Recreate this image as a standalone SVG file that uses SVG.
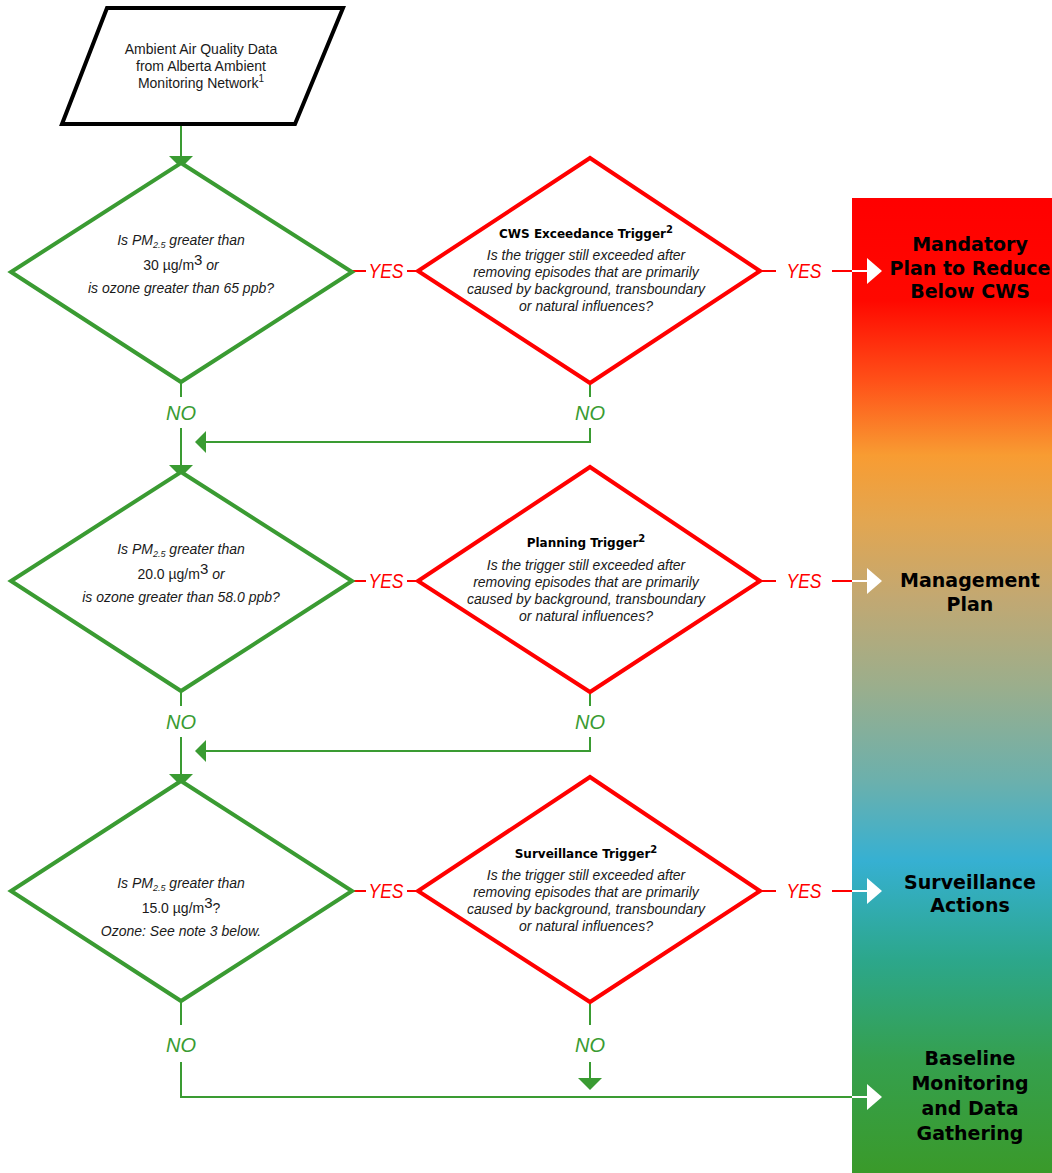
<svg xmlns="http://www.w3.org/2000/svg" width="1052" height="1173" viewBox="0 0 1052 1173">
<style>
.gd{fill:#fff;stroke:#3A9B32;stroke-width:4;stroke-linejoin:miter}
.rd{fill:#fff;stroke:#FF0000;stroke-width:4;stroke-linejoin:miter}
.gl{fill:none;stroke:#3A9B32;stroke-width:2}
.rl{fill:none;stroke:#FF0000;stroke-width:2}
.wl{fill:none;stroke:#fff;stroke-width:2}
.ga{fill:#3A9B32}
.ra{fill:#FF0000}
.wa{fill:#fff}
.t{font-family:"Liberation Sans",Arial,sans-serif;font-size:14px;fill:#1a1a1a;text-anchor:middle}
.i{font-style:italic}
.b{font-family:"DejaVu Sans",sans-serif;font-weight:bold;font-size:12px;fill:#000;text-anchor:middle}
.bar{font-family:"DejaVu Sans",sans-serif;font-weight:bold;font-size:19px;fill:#000;text-anchor:middle}
.yes{font-family:"Liberation Sans",Arial,sans-serif;font-style:italic;font-size:20px;fill:#FF0000;text-anchor:middle}
.no{font-family:"Liberation Sans",Arial,sans-serif;font-style:italic;font-size:20px;fill:#3A9B32;text-anchor:middle}
</style>
<defs>
<linearGradient id="grad" x1="0" y1="0" x2="0" y2="1">
<stop offset="0" stop-color="#FF0000"/>
<stop offset="0.105" stop-color="#FF0800"/>
<stop offset="0.187" stop-color="#FF5018"/>
<stop offset="0.264" stop-color="#F89C32"/>
<stop offset="0.33" stop-color="#E3A650"/>
<stop offset="0.41" stop-color="#C2A872"/>
<stop offset="0.50" stop-color="#9BAE8C"/>
<stop offset="0.597" stop-color="#6CB0AC"/>
<stop offset="0.68" stop-color="#36B0D2"/>
<stop offset="0.78" stop-color="#2CA78C"/>
<stop offset="0.885" stop-color="#35A04E"/>
<stop offset="1" stop-color="#3A9A2A"/>
</linearGradient>
</defs>

<g id="bar">
<rect x="852" y="198" width="200" height="975" fill="url(#grad)"/>
</g>

<g id="connectors">
<!-- input to diamond 1 -->
<line class="gl" x1="181" y1="124" x2="181" y2="158"/>
<polygon class="ga" points="169,156 193,156 181,168"/>
<!-- row 1 YES -->
<line class="rl" x1="352" y1="271" x2="366" y2="271"/>
<line class="rl" x1="407" y1="271" x2="418" y2="271"/>
<line class="rl" x1="418" y1="271" x2="451" y2="271"/>
<polygon class="ra" points="450,259 463,271 450,283"/>
<line class="rl" x1="760" y1="271" x2="776" y2="271"/>
<line class="rl" x1="832" y1="271" x2="852" y2="271"/>
<line class="wl" x1="852" y1="271" x2="868" y2="271"/>
<polygon class="wa" points="867,258 882,271 867,284"/>
<!-- row 1 NO -->
<line class="gl" x1="181" y1="382" x2="181" y2="397"/>
<line class="gl" x1="181" y1="428" x2="181" y2="467"/>
<polygon class="ga" points="169,465 193,465 181,477"/>
<line class="gl" x1="590" y1="383" x2="590" y2="397"/>
<polyline class="gl" points="590,428 590,442 204,442"/>
<polygon class="ga" points="206,431 206,453 195,442"/>
<!-- row 2 YES -->
<line class="rl" x1="352" y1="581" x2="366" y2="581"/>
<line class="rl" x1="407" y1="581" x2="418" y2="581"/>
<line class="rl" x1="418" y1="581" x2="451" y2="581"/>
<polygon class="ra" points="450,569 463,581 450,593"/>
<line class="rl" x1="760" y1="581" x2="776" y2="581"/>
<line class="rl" x1="832" y1="581" x2="852" y2="581"/>
<line class="wl" x1="852" y1="581" x2="868" y2="581"/>
<polygon class="wa" points="867,568 882,581 867,594"/>
<!-- row 2 NO -->
<line class="gl" x1="181" y1="691" x2="181" y2="706"/>
<line class="gl" x1="181" y1="737" x2="181" y2="776"/>
<polygon class="ga" points="169,774 193,774 181,786"/>
<line class="gl" x1="590" y1="692" x2="590" y2="706"/>
<polyline class="gl" points="590,737 590,751 204,751"/>
<polygon class="ga" points="206,740 206,762 195,751"/>
<!-- row 3 YES -->
<line class="rl" x1="352" y1="891" x2="366" y2="891"/>
<line class="rl" x1="407" y1="891" x2="418" y2="891"/>
<line class="rl" x1="418" y1="891" x2="451" y2="891"/>
<polygon class="ra" points="450,879 463,891 450,903"/>
<line class="rl" x1="760" y1="891" x2="776" y2="891"/>
<line class="rl" x1="832" y1="891" x2="852" y2="891"/>
<line class="wl" x1="852" y1="891" x2="868" y2="891"/>
<polygon class="wa" points="867,878 882,891 867,904"/>
<!-- row 3 NO -->
<line class="gl" x1="181" y1="1001" x2="181" y2="1025"/>
<polyline class="gl" points="181,1062 181,1097 852,1097"/>
<line class="wl" x1="852" y1="1097" x2="868" y2="1097"/>
<polygon class="wa" points="867,1084 882,1097 867,1110"/>
<line class="gl" x1="590" y1="1002" x2="590" y2="1025"/>
<line class="gl" x1="590" y1="1062" x2="590" y2="1080"/>
<polygon class="ga" points="578,1078 602,1078 590,1090"/>
<!-- labels -->
<text class="yes" x="386" y="278" textLength="35" lengthAdjust="spacingAndGlyphs">YES</text>
<text class="yes" x="804" y="278" textLength="35" lengthAdjust="spacingAndGlyphs">YES</text>
<text class="yes" x="386" y="588" textLength="35" lengthAdjust="spacingAndGlyphs">YES</text>
<text class="yes" x="804" y="588" textLength="35" lengthAdjust="spacingAndGlyphs">YES</text>
<text class="yes" x="386" y="898" textLength="35" lengthAdjust="spacingAndGlyphs">YES</text>
<text class="yes" x="804" y="898" textLength="35" lengthAdjust="spacingAndGlyphs">YES</text>
<text class="no" x="181" y="420">NO</text>
<text class="no" x="590" y="420">NO</text>
<text class="no" x="181" y="729">NO</text>
<text class="no" x="590" y="729">NO</text>
<text class="no" x="181" y="1052">NO</text>
<text class="no" x="590" y="1052">NO</text>
</g>

<g id="input">
<polygon points="107,8 343,8 295,124 62,124" fill="#fff" stroke="#000" stroke-width="4"/>
<text class="t" x="201" y="54">Ambient Air Quality Data</text>
<text class="t" x="201" y="71">from Alberta Ambient</text>
<text class="t" x="201" y="88">Monitoring Network<tspan font-size="10" dy="-6">1</tspan></text>
</g>

<g id="decision1">
<polygon class="gd" points="181,163 352,272 181,382 11,272"/>
<text class="t i" x="181" y="245">Is PM<tspan font-size="9" dy="3">2.5</tspan><tspan dy="-3"> greater than</tspan></text>
<text class="t" x="181" y="270">30 µg/m<tspan font-size="15" dy="-5">3</tspan><tspan dy="5" font-style="italic"> or</tspan></text>
<text class="t i" x="181" y="293">is ozone greater than 65 ppb?</text>
</g>

<g id="cws-trigger">
<polygon class="rd" points="590,158 760,271 590,383 418,271"/>
<text class="b" x="586" y="238">CWS Exceedance Trigger<tspan font-size="10" dy="-5">2</tspan></text>
<text class="t i" x="586" y="260">Is the trigger still exceeded after</text>
<text class="t i" x="586" y="277">removing episodes that are primarily</text>
<text class="t i" x="586" y="294">caused by background, transboundary</text>
<text class="t i" x="586" y="311">or natural influences?</text>
</g>

<g id="mandatory">
<text class="bar" x="970" y="251">Mandatory</text>
<text class="bar" x="970" y="275">Plan to Reduce</text>
<text class="bar" x="970" y="298">Below CWS</text>
</g>

<g id="decision2">
<polygon class="gd" points="181,472 352,581 181,691 11,581"/>
<text class="t i" x="181" y="554">Is PM<tspan font-size="9" dy="3">2.5</tspan><tspan dy="-3"> greater than</tspan></text>
<text class="t" x="181" y="579">20.0 µg/m<tspan font-size="15" dy="-5">3</tspan><tspan dy="5" font-style="italic"> or</tspan></text>
<text class="t i" x="181" y="602">is ozone greater than 58.0 ppb?</text>
</g>

<g id="planning-trigger">
<polygon class="rd" points="590,467 760,581 590,692 418,581"/>
<text class="b" x="586" y="547">Planning Trigger<tspan font-size="10" dy="-5">2</tspan></text>
<text class="t i" x="586" y="570">Is the trigger still exceeded after</text>
<text class="t i" x="586" y="587">removing episodes that are primarily</text>
<text class="t i" x="586" y="604">caused by background, transboundary</text>
<text class="t i" x="586" y="621">or natural influences?</text>
</g>

<g id="management">
<text class="bar" x="970" y="587">Management</text>
<text class="bar" x="970" y="611">Plan</text>
</g>

<g id="decision3">
<polygon class="gd" points="181,781 352,891 181,1001 11,891"/>
<text class="t i" x="181" y="888">Is PM<tspan font-size="9" dy="3">2.5</tspan><tspan dy="-3"> greater than</tspan></text>
<text class="t" x="181" y="913">15.0 µg/m<tspan font-size="15" dy="-5">3</tspan><tspan dy="5">?</tspan></text>
<text class="t i" x="181" y="936">Ozone: See note 3 below.</text>
</g>

<g id="surveillance-trigger">
<polygon class="rd" points="590,777 760,891 590,1002 418,891"/>
<text class="b" x="586" y="858">Surveillance Trigger<tspan font-size="10" dy="-5">2</tspan></text>
<text class="t i" x="586" y="880">Is the trigger still exceeded after</text>
<text class="t i" x="586" y="897">removing episodes that are primarily</text>
<text class="t i" x="586" y="914">caused by background, transboundary</text>
<text class="t i" x="586" y="931">or natural influences?</text>
</g>

<g id="surveillance">
<text class="bar" x="970" y="889">Surveillance</text>
<text class="bar" x="970" y="912">Actions</text>
</g>

<g id="baseline">
<text class="bar" x="970" y="1065">Baseline</text>
<text class="bar" x="970" y="1090">Monitoring</text>
<text class="bar" x="970" y="1115">and Data</text>
<text class="bar" x="970" y="1140">Gathering</text>
</g>
</svg>
